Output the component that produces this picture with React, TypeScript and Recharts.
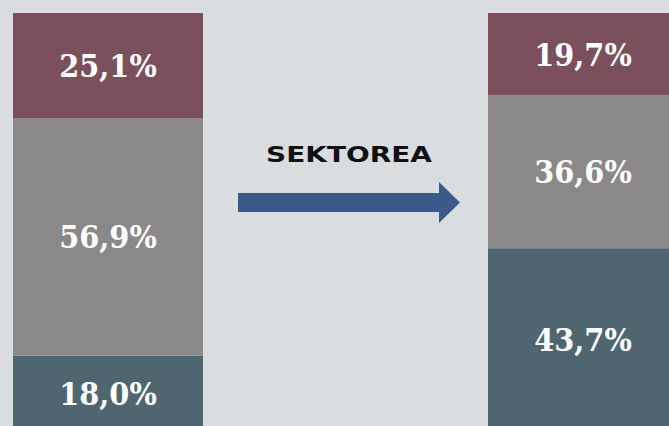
import { BarChart, Bar, XAxis, YAxis, LabelList } from "recharts";

// Bi egoera: aurretik / ondoren
const CATEGORIES = ["aurretik", "ondoren"];
const BOTTOM = [18.0, 43.7];
const MIDDLE = [56.9, 36.6];
const TOP = [25.1, 19.7];

const COLORS = {
  bottom: "#4e6670",
  middle: "#8a8888",
  top: "#7c4f5c",
};

const rows = CATEGORIES.map((name, i) => ({
  name,
  bottom: BOTTOM[i],
  middle: MIDDLE[i],
  top: TOP[i],
}));

const fmtPct = (v: unknown) => `${Number(v).toFixed(1).replace(".", ",")}%`;

const labelStyle = {
  fill: "#ffffff",
  fontSize: 32,
  fontWeight: 700,
  fontFamily: "'DejaVu Serif Condensed', 'DejaVu Serif', serif",
  fontStretch: "condensed",
};

export default function App() {
  return (
    <div
      style={{
        position: "absolute",
        left: 0,
        top: 0,
        width: 669,
        height: 426,
        overflow: "hidden",
        background: "#d9dde0",
      }}
    >
      <div style={{ position: "absolute", left: -130.5, top: 0 }}>
        <BarChart
          width={950}
          height={431}
          data={rows}
          margin={{ top: 13, right: 0, bottom: 0, left: 0 }}
          barCategoryGap={0}
        >
          <XAxis dataKey="name" hide />
          <YAxis hide domain={[0, 100]} />
          <Bar dataKey="bottom" stackId="s" fill={COLORS.bottom} barSize={190} isAnimationActive={false}>
            <LabelList dataKey="bottom" position="center" formatter={fmtPct} style={labelStyle} />
          </Bar>
          <Bar dataKey="middle" stackId="s" fill={COLORS.middle} barSize={190} isAnimationActive={false}>
            <LabelList dataKey="middle" position="center" formatter={fmtPct} style={labelStyle} />
          </Bar>
          <Bar dataKey="top" stackId="s" fill={COLORS.top} barSize={190} isAnimationActive={false}>
            <LabelList dataKey="top" position="center" formatter={fmtPct} style={labelStyle} />
          </Bar>
        </BarChart>
      </div>

      {/* gezia eta testua */}
      <svg width={669} height={426} style={{ position: "absolute", left: 0, top: 0 }}>
        <text
          x={266}
          y={162}
          textLength={166}
          lengthAdjust="spacingAndGlyphs"
          fontFamily="'DejaVu Sans', sans-serif"
          fontWeight={700}
          fontSize={21}
          fill="#111111"
        >
          SEKTOREA
        </text>
        <polygon
          points="238,193 439,193 439,182 460,202.5 439,223 439,212 238,212"
          fill="#3a5b8a"
        />
      </svg>
    </div>
  );
}
